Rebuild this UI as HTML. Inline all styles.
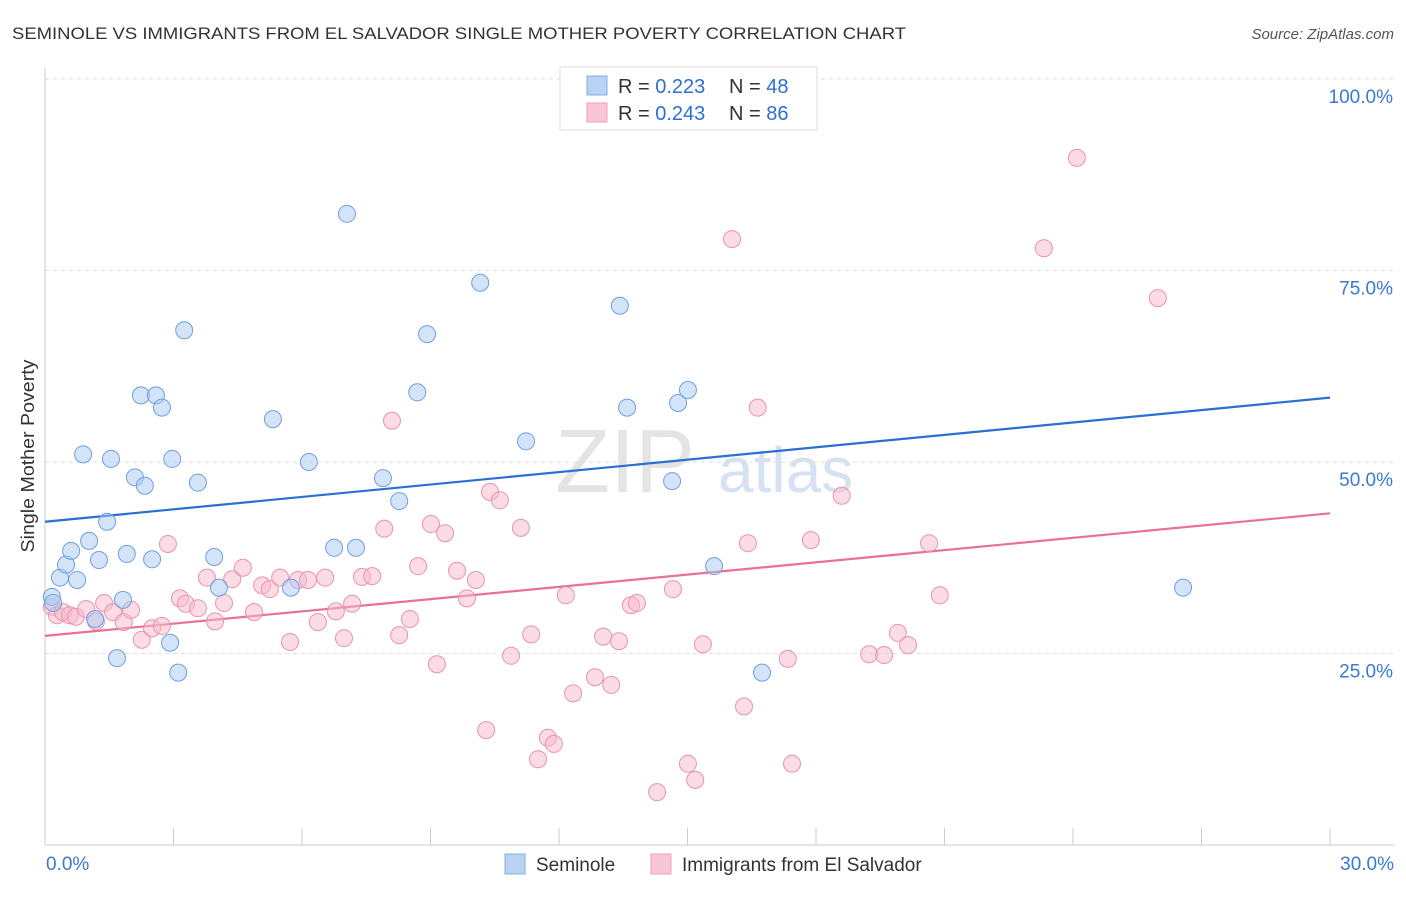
<!DOCTYPE html>
<html><head><meta charset="utf-8"><style>
body{margin:0;background:#fff;font-family:"Liberation Sans",sans-serif;}
svg text{font-family:"Liberation Sans",sans-serif;}
</style></head><body>
<svg id="chart" width="1406" height="892">
<text x="12" y="39" font-size="17" fill="#333" textLength="894" lengthAdjust="spacingAndGlyphs">SEMINOLE VS IMMIGRANTS FROM EL SALVADOR SINGLE MOTHER POVERTY CORRELATION CHART</text>
<text x="1394" y="39" font-size="15" fill="#555" font-style="italic" text-anchor="end">Source: ZipAtlas.com</text>
<text x="34" y="456" font-size="18" fill="#333" text-anchor="middle" textLength="193" lengthAdjust="spacingAndGlyphs" transform="rotate(-90 34 456)">Single Mother Poverty</text>
<text x="555" y="492" font-size="90" fill="#e4e4e4" font-family="Liberation Serif">ZIP</text>
<text x="718" y="492" font-size="64" fill="#d6e2f3">atlas</text>
<g id="grid"></g><g id="lines"></g><g id="pts"></g>
<g>
<rect x="560" y="67" width="257" height="63" fill="#fff" stroke="#ddd"/>
<rect x="587" y="76" width="20" height="19" fill="#b7d2f5" stroke="#86aee6"/>
<rect x="587" y="103" width="20" height="19" fill="#fac6d5" stroke="#eea0b8"/>
<text x="618" y="93" font-size="20" fill="#333">R = <tspan fill="#2b6fd6">0.223</tspan></text>
<text x="729" y="93" font-size="20" fill="#333">N = <tspan fill="#2b6fd6">48</tspan></text>
<text x="618" y="120" font-size="20" fill="#333">R = <tspan fill="#2b6fd6">0.243</tspan></text>
<text x="729" y="120" font-size="20" fill="#333">N = <tspan fill="#2b6fd6">86</tspan></text>
</g>
<g>
<rect x="505" y="854" width="20" height="20" fill="#b7d2f5" stroke="#86aee6"/>
<text x="536" y="871" font-size="19" fill="#333">Seminole</text>
<rect x="651" y="854" width="20" height="20" fill="#fac6d5" stroke="#eea0b8"/>
<text x="682" y="871" font-size="19" fill="#333">Immigrants from El Salvador</text>
</g>
</svg>
<script>
const xTickLabels=["0.0%","30.0%"];
const yTicks=[25,50,75,100];
const yTickLabels=["25.0%","50.0%","75.0%","100.0%"];
const blueX=[0.16,0.19,0.35,0.49,0.61,0.75,0.89,1.03,1.17,1.26,1.45,1.54,1.68,1.82,1.91,2.10,2.24,2.33,2.50,2.59,2.73,2.92,2.97,3.11,3.25,3.57,3.95,4.06,5.32,5.74,6.16,6.75,7.05,7.26,7.89,8.27,8.69,8.92,10.16,11.23,13.42,13.59,14.64,14.78,15.01,15.62,16.74,26.57];
const blueY=[32.4,31.6,34.9,36.6,38.4,34.6,51.0,39.7,29.5,37.2,42.2,50.4,24.4,32.0,38.0,48.0,58.7,46.9,37.3,58.7,57.1,26.4,50.4,22.5,67.2,47.3,37.6,33.6,55.6,33.6,50.0,38.8,82.4,38.8,47.9,44.9,59.1,66.7,73.4,52.7,70.4,57.1,47.5,57.7,59.4,36.4,22.5,33.6];
const pinkX=[0.16,0.28,0.42,0.58,0.72,0.96,1.19,1.38,1.59,1.84,2.01,2.26,2.50,2.73,2.87,3.15,3.29,3.57,3.78,3.97,4.18,4.37,4.62,4.88,5.07,5.25,5.49,5.72,5.91,6.14,6.37,6.54,6.79,6.98,7.17,7.40,7.64,7.92,8.10,8.27,8.52,8.71,9.01,9.15,9.34,9.62,9.85,10.06,10.30,10.39,10.62,10.88,11.11,11.35,11.51,11.74,11.88,12.16,12.33,12.84,13.03,13.22,13.40,13.68,13.82,14.29,14.66,15.01,15.18,15.36,16.04,16.32,16.41,16.64,17.34,17.44,17.88,18.60,19.24,19.59,19.91,20.15,20.64,20.89,23.32,24.09,25.98];
const pinkY=[31.1,30.0,30.4,30.0,29.8,30.8,29.2,31.6,30.4,29.1,30.7,26.8,28.3,28.6,39.3,32.2,31.5,30.9,34.9,29.2,31.6,34.7,36.2,30.4,33.9,33.4,34.9,26.5,34.6,34.6,29.1,34.9,30.5,27.0,31.5,35.0,35.1,41.3,55.4,27.4,29.5,36.4,41.9,23.6,40.7,35.8,32.2,34.6,15.0,46.1,45.0,24.7,41.4,27.5,11.2,14.0,13.2,32.6,19.8,21.9,27.2,20.9,26.6,31.3,31.6,6.9,33.4,10.6,8.5,26.2,79.1,18.1,39.4,57.1,24.3,10.6,39.8,45.6,24.9,24.8,27.7,26.1,39.4,32.6,77.9,89.7,71.4];
const blueTrend=[42.2,58.4];
const pinkTrend=[27.3,43.3];
const NS="http://www.w3.org/2000/svg";
const X0=45,X1=1330,Y0=845,YS=191.5/25;
function sx(v){return X0+(v/30)*(X1-X0);}
function sy(v){return Y0-v*YS;}
function mk(t,a,p){const e=document.createElementNS(NS,t);for(const k in a)e.setAttribute(k,a[k]);p.appendChild(e);return e;}
const grid=document.getElementById('grid');
const lines=document.getElementById('lines');
const pts=document.getElementById('pts');
yTicks.forEach((t,i)=>{
 const l=mk('line',{x1:X0,x2:1395,y1:sy(t),y2:sy(t),stroke:'#ddd','stroke-dasharray':'4,4'},grid);
 
 
 const tx=mk('text',{x:1393,y:sy(t)+24,'font-size':19,fill:'#3a78d4','text-anchor':'end'},grid);
 tx.textContent=yTickLabels[i];
 
 
});
const ax=mk('line',{x1:X0,x2:X0,y1:68,y2:Y0,stroke:'#ccc'},grid);


const bx=mk('line',{x1:X0,x2:1395,y1:Y0,y2:Y0,stroke:'#ccc'},grid);


for(let i=1;i<=10;i++){
 const t=mk('line',{x1:sx(i*3),x2:sx(i*3),y1:828,y2:Y0,stroke:'#ccc'},grid);
 
 
}
[[0,'start',46],[30,'end',1394]].forEach((d,i)=>{
 const tx=mk('text',{x:d[2],y:870,'font-size':19,fill:'#3a78d4','text-anchor':d[1]},grid);
 tx.textContent=xTickLabels[i];
 
 
});
function drawPts(xs,ys,fill,stroke,name){
 xs.forEach((x,i)=>{
  const c=mk('circle',{cx:sx(x),cy:sy(ys[i]),r:8.5,fill:fill,'fill-opacity':0.5,stroke:stroke,'stroke-width':1},pts);
  
  
 });
}
drawPts(pinkX,pinkY,'#f7b9cc','#e993ad','point-elsalvador');
drawPts(blueX,blueY,'#a9c9f2','#6f9fe0','point-seminole');
const bl=mk('line',{x1:sx(0),x2:sx(30),y1:sy(blueTrend[0]),y2:sy(blueTrend[1]),stroke:'#2a6fd6','stroke-width':2.2},lines);


const pl=mk('line',{x1:sx(0),x2:sx(30),y1:sy(pinkTrend[0]),y2:sy(pinkTrend[1]),stroke:'#e8709a','stroke-width':2.2},lines);


</script>
</body></html>
